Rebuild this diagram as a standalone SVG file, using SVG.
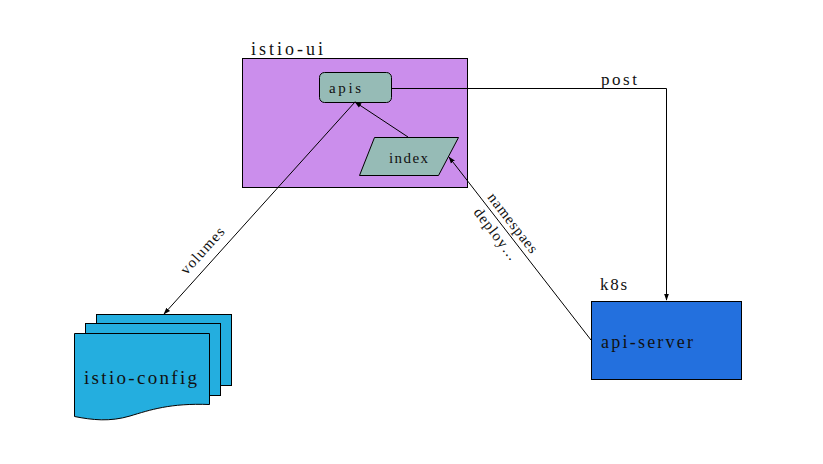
<svg xmlns="http://www.w3.org/2000/svg" width="823" height="464" viewBox="0 0 823 464">
<style>
text{font-family:"Liberation Serif","DejaVu Serif",serif;fill:#111}
.sh{stroke:#000;stroke-width:1}
.ln{fill:none;stroke:#000;stroke-width:1}
</style>
<defs>
<marker id="ah" viewBox="0 0 10 10" refX="9" refY="5" markerWidth="7" markerHeight="7" orient="auto-start-reverse" markerUnits="userSpaceOnUse">
<path d="M0,1.5 L10,5 L0,8.5 z" fill="#000"/>
</marker>
</defs>
<rect width="823" height="464" fill="#fff"/>
<g id="istio-ui">
<rect class="sh" x="242.5" y="58.5" width="225" height="129" fill="#CB8EEC"/>
<text x="251" y="55" font-size="18" textLength="72" lengthAdjust="spacing">istio-ui</text>
</g>
<g id="apis">
<rect class="sh" x="319.5" y="72.5" width="72" height="30" rx="5" fill="#96BBB6"/>
<text x="329" y="93" font-size="15" textLength="32" lengthAdjust="spacing">apis</text>
</g>
<g id="index">
<polygon class="sh" points="374.5,137.5 458.5,137.5 438.5,175.5 359.5,175.5" fill="#96BBB6"/>
<text x="389" y="163" font-size="15" textLength="39" lengthAdjust="spacing">index</text>
</g>
<g id="api-server">
<rect class="sh" x="591.5" y="301.5" width="150" height="78" fill="#2370DE"/>
<text x="600" y="290" font-size="17" textLength="27" lengthAdjust="spacing">k8s</text>
<text x="601" y="348" font-size="18" textLength="92" lengthAdjust="spacing">api-server</text>
</g>
<g id="istio-config">
<rect class="sh" x="96.5" y="314.5" width="135" height="71" fill="#24AEDF"/>
<rect class="sh" x="85.5" y="323.5" width="135" height="72" fill="#24AEDF"/>
<path class="sh" d="M74.5,333.5 H209.5 V404.5 C170,403 150,410 130,416 C110,422 92,420 74.5,416.5 Z" fill="#24AEDF"/>
<text x="84" y="384" font-size="19" textLength="113" lengthAdjust="spacing">istio-config</text>
</g>
<g id="connectors">
<polyline class="ln" points="392,88.5 666.5,88.5 666.5,300" marker-end="url(#ah)"/>
<text x="601" y="85" font-size="17" textLength="36" lengthAdjust="spacing">post</text>
<line class="ln" x1="408" y1="137" x2="355" y2="102" marker-end="url(#ah)"/>
<line class="ln" x1="591" y1="340" x2="449" y2="157" marker-end="url(#ah)"/>
<text x="-36" y="0" font-size="15" textLength="72" lengthAdjust="spacing" transform="translate(509,226) rotate(52.2)">namespaes</text>
<text x="-31" y="0" font-size="15" textLength="62" lengthAdjust="spacing" transform="translate(492,237) rotate(52.2)">deploy…</text>
<line class="ln" x1="355" y1="102" x2="164" y2="314" marker-end="url(#ah)"/>
<text x="-29" y="0" font-size="15" textLength="58" lengthAdjust="spacing" transform="translate(206,254) rotate(-48)">volumes</text>
</g>
</svg>
